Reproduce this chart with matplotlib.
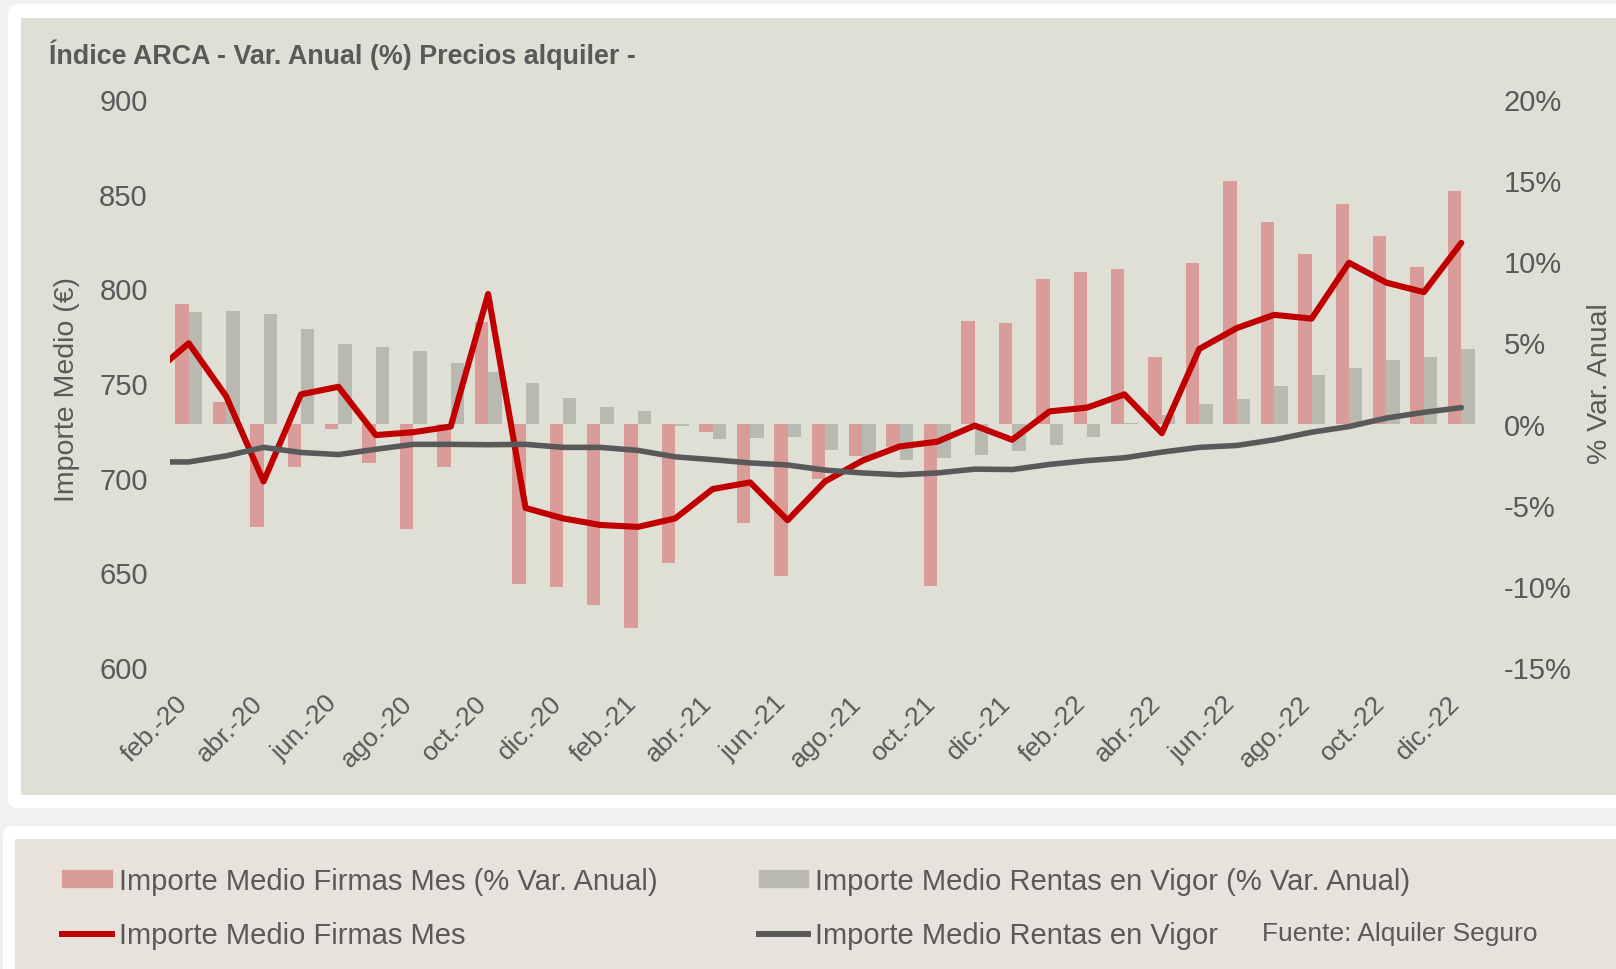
import numpy as np
import matplotlib
matplotlib.use("Agg")
import matplotlib.pyplot as plt
import matplotlib.ticker as ticker
from matplotlib.patches import FancyBboxPatch, Rectangle, Patch
from matplotlib.lines import Line2D
from matplotlib.transforms import IdentityTransform

plt.rcParams["font.family"] = ["Liberation Sans", "DejaVu Sans"]

# ---- data ----
months = ["feb.-20", "mar.-20", "abr.-20", "may.-20", "jun.-20", "jul.-20",
          "ago.-20", "sep.-20", "oct.-20", "nov.-20", "dic.-20",
          "ene.-21", "feb.-21", "mar.-21", "abr.-21", "may.-21", "jun.-21",
          "jul.-21", "ago.-21", "sep.-21", "oct.-21", "nov.-21", "dic.-21",
          "ene.-22", "feb.-22", "mar.-22", "abr.-22", "may.-22", "jun.-22",
          "jul.-22", "ago.-22", "sep.-22", "oct.-22", "nov.-22", "dic.-22"]

# % var. anual (bars, right axis)
firmas_var = [7.35, 1.33, -6.35, -2.66, -0.35, -2.4, -6.5, -2.66, 6.26, -9.9,
              -10.1, -11.2, -12.6, -8.6, -0.5, -6.14, -9.37, -3.4, -2.0, -1.45,
              -10.0, 6.35, 6.2, 8.9, 9.35, 9.5, 4.1, 9.9, 14.95, 12.4,
              10.45, 13.5, 11.55, 9.65, 14.35]
rentas_var = [6.9, 6.95, 6.75, 5.8, 4.9, 4.7, 4.45, 3.76, 3.18, 2.53,
              1.56, 1.05, 0.8, -0.15, -0.95, -0.9, -0.85, -1.63, -2.1, -2.25,
              -2.1, -1.95, -1.7, -1.3, -0.8, 0.05, 0.5, 1.2, 1.5, 2.3,
              3.0, 3.45, 3.9, 4.1, 4.6]

# importe medio (lines, left axis) - first value is ene.-20, clipped at the edge
firmas_importe = [754, 771, 743, 698, 744, 748, 722.5, 724, 727, 797, 684,
                  678.5, 675, 674, 678.5, 694, 697.5, 677.5, 698, 709, 716.5,
                  719, 727.5, 720, 735, 737, 744, 723.5, 768, 779, 786, 784,
                  813.5, 803, 798, 824]
rentas_importe = [708.3, 708.3, 711.5, 716, 713.3, 712.2, 715, 717.6, 717.6,
                  717.4, 717.6, 716, 716, 714.4, 711, 709.5, 707.8, 706.7, 704,
                  702.5, 701.5, 702.5, 704.5, 704.3, 707, 709, 710.5, 713.5,
                  716, 717, 720, 724, 727, 731.5, 734.5, 737]

RED_BAR = "#d99c98"
GRAY_BAR = "#b9b9b1"
RED_LINE = "#c00000"
GRAY_LINE = "#595959"
TXT = "#595959"
BEIGE = "#e0dfd6"
LEG_BG = "#e7e3dc"

W, H = 1616, 970
fig = plt.figure(figsize=(W / 100, H / 100), dpi=100, facecolor="#f2f1ef")


def px(x0, y_top, w, h):
    """figure-pixel box (top-left origin) -> display coords"""
    return x0, H - y_top - h, w, h


# background panels (behind the axes)
for (x0, y0, w, h), fc in [(px(8, 5, 1640, 804), "white"),
                           (px(3, 827, 1640, 200), "white")]:
    fig.patches.append(FancyBboxPatch((x0, y0), w, h,
                                      boxstyle="round,pad=0,rounding_size=10",
                                      transform=IdentityTransform(),
                                      fc=fc, ec="none", zorder=-3))
for (x0, y0, w, h), fc in [(px(21, 19, 1600, 777), BEIGE),
                           (px(15, 840, 1605, 140), LEG_BG)]:
    fig.patches.append(Rectangle((x0, y0), w, h, transform=IdentityTransform(),
                                 fc=fc, ec="none", zorder=-2))

# axes: bars on ax (right scale), lines on twin (left scale) so lines sit on top
left, right, top, bottom = 170, 1480, 100, 668
ax = fig.add_axes([left / W, 1 - bottom / H, (right - left) / W, (bottom - top) / H])
ax.set_facecolor("none")
axl = ax.twinx()
axl.set_facecolor("none")

x = np.arange(len(months))
bw = 0.36
ax.bar(x - bw / 2, firmas_var, width=bw, color=RED_BAR, linewidth=0)
ax.bar(x + bw / 2, rentas_var, width=bw, color=GRAY_BAR, linewidth=0)

xl = np.arange(-1, len(months))
axl.plot(xl, firmas_importe, color=RED_LINE, lw=4.4, solid_capstyle="round",
         solid_joinstyle="round")
axl.plot(xl, rentas_importe, color=GRAY_LINE, lw=4.0, solid_capstyle="round",
         solid_joinstyle="round")

ax.set_xlim(-0.5, len(months) - 0.5)
ax.set_ylim(-15, 20)
ax.set_yticks(range(-15, 21, 5))
ax.yaxis.set_major_formatter(ticker.FuncFormatter(lambda v, p: f"{int(v)}%"))
axl.set_ylim(600, 900)
axl.set_yticks(range(600, 901, 50))

ax.yaxis.tick_right()
ax.yaxis.set_label_position("right")
axl.yaxis.tick_left()
axl.yaxis.set_label_position("left")

ax.set_xticks(x[::2])
ax.set_xticklabels(months[::2], rotation=45, ha="right", va="baseline",
                   rotation_mode="anchor")

for a in (ax, axl):
    for s in a.spines.values():
        s.set_visible(False)
    a.tick_params(length=0, labelsize=21, colors=TXT)
ax.tick_params(axis="y", pad=17)
axl.tick_params(axis="y", pad=16)
ax.tick_params(axis="x", pad=26.5, labelsize=19)

axl.set_ylabel("Importe Medio (€)", fontsize=20.5, color=TXT)
axl.yaxis.set_label_coords((67 - left) / (right - left), 0.49)
axl.yaxis.label.set_va("center")
ax.set_ylabel("% Var. Anual", fontsize=20.5, color=TXT, rotation=90)
ax.yaxis.set_label_coords((1600 - left) / (right - left), 0.5)
ax.yaxis.label.set_va("center")

fig.text(49 / W, 1 - 55 / H, "Índice ARCA - Var. Anual (%) Precios alquiler -",
         fontsize=19.4, fontweight="bold", color=TXT, va="center", ha="left")

# legend
handles = [Patch(color=RED_BAR), Line2D([], [], color=RED_LINE, lw=4.3),
           Patch(color=GRAY_BAR), Line2D([], [], color=GRAY_LINE, lw=4.3)]
labels = ["Importe Medio Firmas Mes (% Var. Anual)", "Importe Medio Firmas Mes",
          "Importe Medio Rentas en Vigor (% Var. Anual)", "Importe Medio Rentas en Vigor"]
leg = fig.legend(handles, labels, ncol=2, loc="upper left",
                 bbox_to_anchor=(62 / W, 1 - 868 / H), frameon=False,
                 fontsize=21, handlelength=1.7, handleheight=0.5,
                 handletextpad=0.24, columnspacing=3.48, labelspacing=0.9,
                 borderpad=0, borderaxespad=0)
for t in leg.get_texts():
    t.set_color(TXT)

fig.text(1262 / W, 1 - 934 / H, "Fuente: Alquiler Seguro", fontsize=19,
         color=TXT, va="center", ha="left")

fig.savefig("out.png", dpi=100, facecolor=fig.get_facecolor())
